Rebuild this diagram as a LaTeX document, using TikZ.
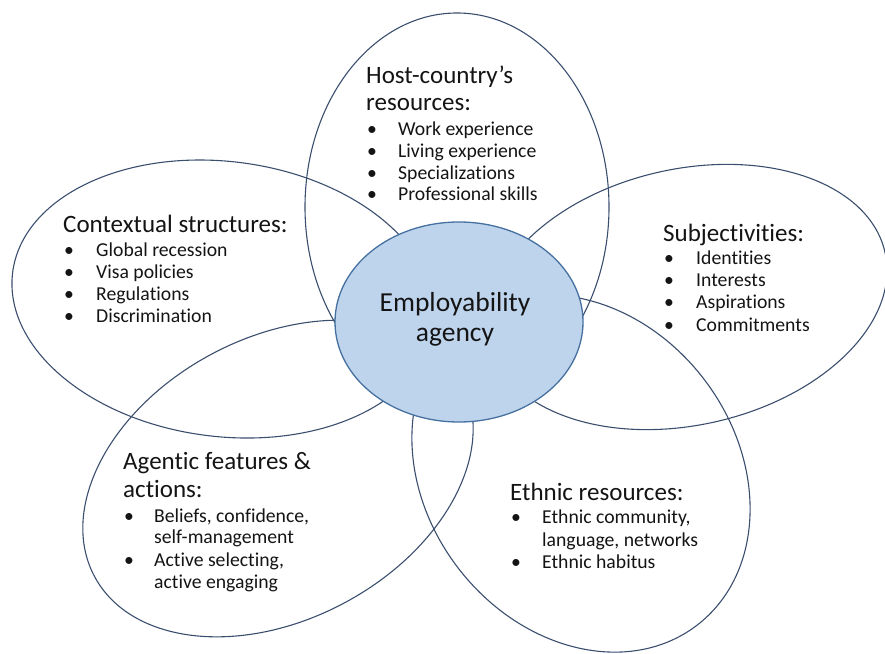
\documentclass[tikz,border=0pt]{standalone}
\usepackage{fontspec}
\setmainfont{Carlito}[Ligatures={NoCommon,NoContextual},Contextuals=NoAlternate,RawFeature={-liga,-dlig}]
\begin{document}
\begin{tikzpicture}[x=1pt,y=1pt,
  petal/.style={draw=petalline, line width=1.1pt},
  hub/.style={draw=hubline, fill=hubfill, line width=1.3pt},
  head/.style={anchor=base west, inner sep=0pt, text=txt, font=\fontsize{25}{27}\selectfont},
  item/.style={anchor=base west, inner sep=0pt, text=txt, font=\fontsize{19.7}{21.6}\selectfont},
  title/.style={anchor=base, inner sep=0pt, text=txt, font=\fontsize{27.5}{30}\selectfont}]
\definecolor{petalline}{RGB}{58,78,110}
\definecolor{hubline}{RGB}{70,112,160}
\definecolor{hubfill}{RGB}{190,212,236}
\definecolor{txt}{RGB}{20,20,20}
% bullet column of a given width
\newcommand{\bl}[1]{\makebox[#1][l]{\hspace{1pt}•}}
% keeps letter pairs such as t-i apart (no joined glyphs)
\newcommand{\nj}{\kern0pt }
\useasboundingbox (0,0) rectangle (885,653);

% outer petals
\coordinate (pTop) at (457,446);
\coordinate (pRight) at (687,356);
\coordinate (pLeft) at (223.5,354);
\coordinate (pLowL) at (278,174.5);
\coordinate (pLowR) at (581,179.5);
\draw[petal] (pTop) ellipse [x radius=152pt, y radius=194pt];
\draw[petal, rotate around={12.7:(pRight)}] (pRight) ellipse [x radius=203pt, y radius=128pt];
\draw[petal, rotate around={-7.2:(pLeft)}] (pLeft) ellipse [x radius=212.5pt, y radius=137.5pt];
\draw[petal, rotate around={28.1:(pLowL)}] (pLowL) ellipse [x radius=208pt, y radius=141pt];
\draw[petal, rotate around={-52.7:(pLowR)}] (pLowR) ellipse [x radius=191pt, y radius=155pt];

% central hub
\coordinate (pHub) at (459,331);
\draw[hub] (pHub) ellipse [x radius=124pt, y radius=100pt];
\node[title] (hubA) at (455,341) {Employability};
\node[title] (hubB) at (455,311) {agency};

% host-country resources
\node[head] (hostA) at (366,569) {Host-country’s};
\node[head] (hostB) at (366,542) {resources:};
\node[item] (host1) at (366,517) {\bl{32pt}Work experience};
\node[item] (host2) at (366,495.4) {\bl{32pt}Living experience};
\node[item] (host3) at (366,473.8) {\bl{32pt}Specializat\nj ions};
\node[item] (host4) at (366,452.2) {\bl{32pt}Professional skills};

% contextual structures
\node[head] (ctxA) at (63,420) {Contextual structures:};
\node[item] (ctx1) at (63,396) {\bl{33pt}Global recession};
\node[item] (ctx2) at (63,374) {\bl{33pt}Visa policies};
\node[item] (ctx3) at (63,352) {\bl{33pt}Regulat\nj ions};
\node[item] (ctx4) at (63,330) {\bl{33pt}Discriminat\nj ion};

% subjectivities
\node[head] (subA) at (663,411) {Subjectivit\nj ies:};
\node[item] (sub1) at (663,388) {\bl{33pt}Identit\nj ies};
\node[item] (sub2) at (663,366) {\bl{33pt}Interests};
\node[item] (sub3) at (663,344) {\bl{33pt}Aspirat\nj ions};
\node[item] (sub4) at (663,321) {\bl{33pt}Commitments};

% agentic features and actions
\node[head] (agA) at (123,183) {Agent\nj ic features \&};
\node[head] (agB) at (123,155) {act\nj ions:};
\node[item] (ag1) at (123,131) {\bl{31pt}Beliefs, conf\nj idence,};
\node[item] (ag1b) at (154,110) {self-management};
\node[item] (ag2) at (123,87) {\bl{31pt}Act\nj ive select\nj ing,};
\node[item] (ag2b) at (154,65) {act\nj ive engaging};

% ethnic resources
\node[head] (ethA) at (510,152) {Ethnic resources:};
\node[item] (eth1) at (510,130) {\bl{32pt}Ethnic community,};
\node[item] (eth1b) at (542,107) {language, networks};
\node[item] (eth2) at (510,85) {\bl{32pt}Ethnic habitus};
\end{tikzpicture}
\end{document}
